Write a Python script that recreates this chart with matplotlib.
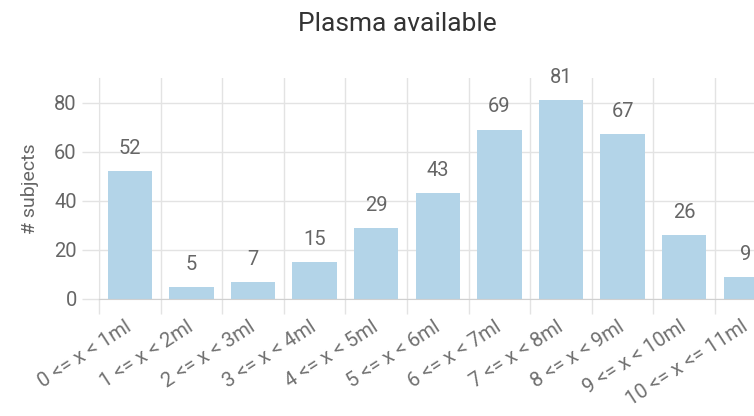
import matplotlib
matplotlib.use("Agg")
import matplotlib.pyplot as plt
import matplotlib.transforms as mtransforms

categories = ["0 <= x < 1ml", "1 <= x < 2ml", "2 <= x < 3ml", "3 <= x < 4ml",
              "4 <= x < 5ml", "5 <= x < 6ml", "6 <= x < 7ml", "7 <= x < 8ml",
              "8 <= x < 9ml", "9 <= x < 10ml", "10 <= x <= 11ml"]
counts = [52, 5, 7, 15, 29, 43, 69, 81, 67, 26, 9]
yticks = [0, 20, 40, 60, 80]

plt.rcParams['font.family'] = ['Roboto', 'DejaVu Sans']

fig = plt.figure(figsize=(7.54, 4.16), dpi=100)
W, H = 754, 416
left, right, top, bottom = 99, 99 + 11 * 61.6, 78, 299
ax = fig.add_axes([left / W, 1 - bottom / H, (right - left) / W, (bottom - top) / H])

bar_color = '#b3d4e8'
x = list(range(len(categories)))
ax.bar(x, counts, width=0.72, color=bar_color, zorder=2)

for xi, v in zip(x, counts):
    ax.annotate(str(v), (xi, v), xytext=(0, 9.5), textcoords='offset points',
                ha='center', va='bottom', fontsize=14.5, color='#666666')

ax.set_xlim(-0.5, len(categories) - 0.5)
ax.set_ylim(0, 90)
ax.set_yticks(yticks)
ax.set_yticklabels([str(t) for t in yticks])

# category boundary grid lines
bounds = [i - 0.5 for i in range(len(categories) + 1)]
for b in bounds:
    ax.axvline(b, color='#e3e3e3', lw=1, zorder=0)
for t in yticks:
    ax.axhline(t, color='#e3e3e3', lw=1, zorder=0)

ax.set_xticks(bounds, minor=True)
ax.set_xticks(x)
ax.set_xticklabels(categories, rotation=33, ha='right', rotation_mode='anchor',
                   fontsize=14.5, color='#707070')
ax.tick_params(axis='x', which='major', length=0, pad=13)
ax.tick_params(axis='x', which='minor', length=11, color='#e3e3e3', width=1)
ax.tick_params(axis='y', length=12, color='#e3e3e3', width=1, labelsize=14.5,
               labelcolor='#666666', pad=4)

shift = mtransforms.ScaledTranslation(-5 / 100, 0, fig.dpi_scale_trans)
for lbl in ax.get_xticklabels():
    lbl.set_transform(lbl.get_transform() + shift)

for s in ['top', 'right']:
    ax.spines[s].set_visible(False)
ax.spines['left'].set_color('#e3e3e3')
ax.spines['bottom'].set_color('#d0d0d0')

ax.set_ylabel('# subjects', fontsize=14, color='#666666', labelpad=11)
fig.text(397 / W, 1 - 31 / H, 'Plasma available', ha='center', va='baseline',
         fontsize=19, color='#333333')

fig.savefig('out.png', dpi=100)
